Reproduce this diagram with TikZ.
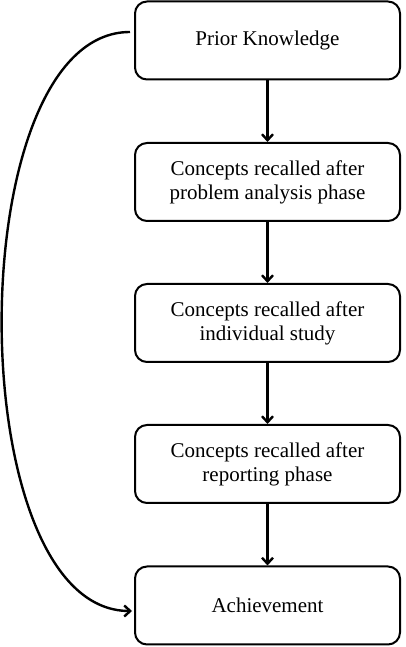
\documentclass[tikz,border=0pt]{standalone}
\usepackage{fontspec}
\setmainfont{Liberation Serif}
\usetikzlibrary{arrows.meta}
\tikzset{
  stepbox/.style={draw, line width=2pt, rounded corners=12pt, minimum width=265pt, minimum height=78pt, align=center, inner sep=0pt, font=\fontsize{21}{24}\selectfont},
  linkarrow/.style={line width=2.4pt, arrows={-Straight Barb[length=6pt,width=11pt]}}}
\begin{document}
\begin{tikzpicture}
\useasboundingbox (0pt,0pt) rectangle (405pt,647pt);
\node[stepbox] (p) at (267.5pt,606.5pt) {Prior Knowledge};
\node[stepbox] (a) at (267.5pt,465pt) {Concepts recalled after\\problem analysis phase};
\node[stepbox] (i) at (267.5pt,324pt) {Concepts recalled after\\individual study};
\node[stepbox] (r) at (267.5pt,183pt) {Concepts recalled after\\reporting phase};
\node[stepbox] (e) at (267.5pt,41.5pt) {Achievement};
\draw[linkarrow] (p) -- (a);
\draw[linkarrow] (a) -- (i);
\draw[linkarrow] (i) -- (r);
\draw[linkarrow] (r) -- (e);
\coordinate (s) at ([shift={(-4pt,8.5pt)}]p.west);
\coordinate (t) at ([shift={(-2pt,-5.5pt)}]e.west);
\draw[linkarrow] (s) .. controls (-41pt,615pt) and (-41pt,36pt) .. (t);
\end{tikzpicture}
\end{document}
